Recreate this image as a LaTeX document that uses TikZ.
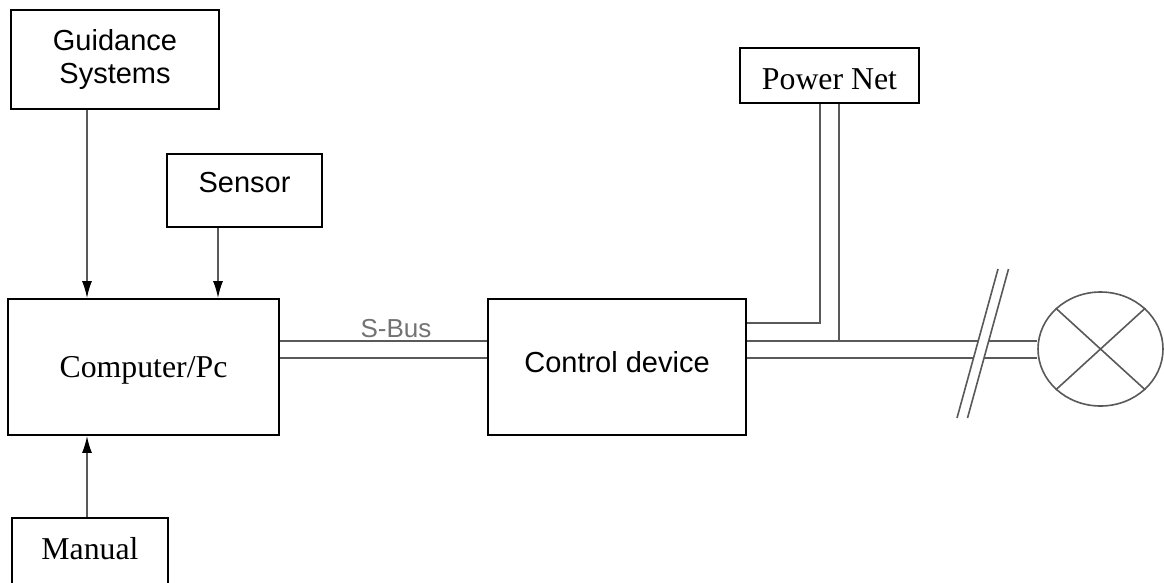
\documentclass[tikz,border=0pt]{standalone}
\usepackage{fontspec}
\usepackage{tikz}
\usetikzlibrary{arrows.meta, shapes.geometric}
\newfontfamily\labelsans{Liberation Sans}
\newfontfamily\labelserif{Liberation Serif}

\begin{document}
\begin{tikzpicture}[x=1pt, y=-1pt,
    box/.style={draw, line width=1.8pt, inner sep=0pt},
    sanstext/.style={font=\labelsans\fontsize{29}{33.4}\selectfont},
    seriftext/.style={font=\labelserif\fontsize{31.8}{36}\selectfont},
    wire/.style={draw=black!65, line width=1.6pt},
    feed/.style={wire, -{Latex[length=17pt,width=10pt,color=black]}}]
    \fill[white] (0,0) rectangle (1164,582);
    \useasboundingbox (0,0) rectangle (1164,582);
    \node[box, sanstext, align=center, minimum width=208, minimum height=99] (guid) at (115,59.5) {Guidance\\Systems};
    \node[box, sanstext, minimum width=155, minimum height=73, text depth=16pt] (sens) at (244.5,190.5) {Sensor};
    \node[box, seriftext, minimum width=271, minimum height=136, text depth=0pt] (comp) at (143.5,367) {Computer/Pc};
    \node[box, sanstext, minimum width=258, minimum height=136, text depth=10pt] (ctrl) at (617,367) {Control device};
    \node[box, seriftext, minimum width=156, minimum height=66, text depth=6pt] (man) at (90,551) {Manual};
    \node[box, seriftext, minimum width=179, minimum height=55, text height=28pt, text depth=0pt] (pnet) at (829.5,75.5) {Power Net};
    \node[wire, ellipse, minimum width=125, minimum height=114, inner sep=0pt] (lamp) at (1100.5,349) {};
    \coordinate (leftfeed) at (87,0);
    \coordinate (sensfeed) at (218,0);
    \coordinate (busa) at (0,341);
    \coordinate (busb) at (0,358);
    \coordinate (feedup) at (0,323);
    \coordinate (pleft) at (820,0);
    \coordinate (pright) at (839,0);
    \draw[feed] (leftfeed |- guid.south) -- (leftfeed |- comp.north);
    \draw[feed] (sensfeed |- sens.south) -- (sensfeed |- comp.north);
    \draw[feed] (leftfeed |- man.north) -- (leftfeed |- comp.south);
    % S-Bus pair
    \draw[wire] (comp.east |- busa) -- (ctrl.west |- busa);
    \draw[wire] (comp.east |- busb) -- (ctrl.west |- busb);
    \node[font=\labelsans\fontsize{26}{30}\selectfont, text=black!55] (sbus) at (396,329) {S-Bus};
    % supply from the power net
    \draw[wire] (pleft |- pnet.south) -- (pleft |- feedup) -- (ctrl.east |- feedup);
    \draw[wire] (pright |- pnet.south) -- (pright |- busa);
    \draw[wire] (ctrl.east |- busa) -- (978,341) (989,341) -- (lamp.west |- busa);
    \draw[wire] (ctrl.east |- busb) -- (973.5,358) (984,358) -- (lamp.west |- busb);
    \foreach \dx in {0,10.5}
        \draw[wire] (957+\dx,418) -- (998+\dx,269);
    \draw[wire] (lamp.north west) -- (lamp.south east);
    \draw[wire] (lamp.north east) -- (lamp.south west);
\end{tikzpicture}
\end{document}
